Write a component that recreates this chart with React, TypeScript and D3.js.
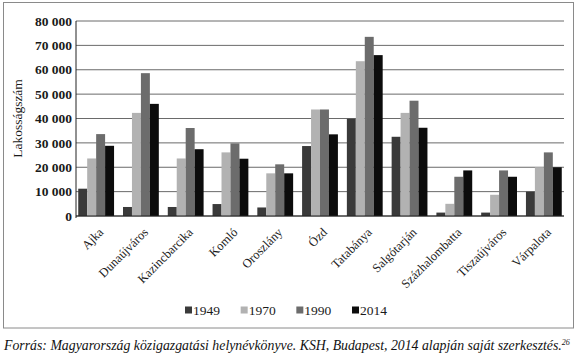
import React from 'react';
import * as d3 from 'd3';

const cities = ['Ajka', 'Dunaújváros', 'Kazincbarcika', 'Komló', 'Oroszlány', 'Ózd', 'Tatabánya', 'Salgótarján', 'Százhalombatta', 'Tiszaújváros', 'Várpalota'];
const years = ['1949', '1970', '1990', '2014'];
const pop1949 = [11200, 3700, 3700, 4900, 3500, 28700, 39900, 32500, 1400, 1400, 10000];
const pop1970 = [23600, 42300, 23600, 26100, 17500, 43700, 63500, 42300, 5000, 8700, 20000];
const pop1990 = [33600, 58600, 36100, 29800, 21200, 43700, 73500, 47300, 16100, 18700, 26100];
const pop2014 = [28800, 46000, 27400, 23500, 17500, 33500, 66000, 36200, 18700, 16100, 20000];
const yTicks = [0, 10000, 20000, 30000, 40000, 50000, 60000, 70000, 80000];
const colors = ['#3a3a3a', '#b2b2b2', '#6c6c6c', '#0c0c0c'];

const series = [pop1949, pop1970, pop1990, pop2014];

export default function App() {
    const width = 580, height = 361;
    const margin = { top: 21, right: 16, bottom: 145, left: 76 };
    const x0 = d3.scaleBand().domain(cities).range([margin.left, width - margin.right]).paddingInner(0.2).paddingOuter(0.05);
    const x1 = d3.scaleBand().domain(years).range([0, x0.bandwidth()]);
    const y = d3.scaleLinear().domain([0, 80000]).range([height - margin.bottom, margin.top]);
    const fmt = (v: number) => d3.format(',')(v).replace(/,/g, ' ');
    const serif = "'Liberation Serif', 'Times New Roman', serif";
    const legendX = d3.scalePoint().domain(years).range([185, 352]);

    return (
        <svg width={width} height={height} style={{ position: 'absolute', left: 0, top: 0, fontFamily: serif }}>
            <rect x={3.5} y={2.5} width={570} height={325.5} fill="#fff" stroke="#8a8a8a" />
            {/* gridlines */}
            {yTicks.map(t => (
                <line key={t} x1={margin.left} x2={width - margin.right} y1={y(t)} y2={y(t)} stroke="#6a6a6a" strokeWidth={1} />
            ))}
            {yTicks.map(t => (
                <text key={'l' + t} x={margin.left - 4} y={y(t)} dy="0.35em" textAnchor="end" fontSize={13.5} fontWeight="bold" fill="#1a1a1a">{fmt(t)}</text>
            ))}
            <text transform={`translate(22,${y(40000)}) rotate(-90)`} textAnchor="middle" fontSize={13.5} fill="#1a1a1a">Lakosságszám</text>
            {/* bars */}
            {cities.map((c, i) => (
                <g key={c} transform={`translate(${x0(c)},0)`}>
                    {series.map((s, j) => (
                        <rect key={j} x={x1(years[j])} y={y(s[i])} width={x1.bandwidth()} height={y(0) - y(s[i])} fill={colors[j]} />
                    ))}
                </g>
            ))}
            <line x1={margin.left} x2={width - margin.right} y1={y(0)} y2={y(0)} stroke="#222" />
            <line x1={margin.left} x2={margin.left} y1={margin.top} y2={y(0) + 2} stroke="#222" />
            {/* x labels */}
            {cities.map(c => (
                <text key={'x' + c} transform={`translate(${(x0(c) as number) + x0.bandwidth() / 2 + 8},${y(0) + 17}) rotate(-45)`} textAnchor="end" fontSize={12.5} fill="#1a1a1a">{c}</text>
            ))}
            {/* legend */}
            {years.map((yr, j) => (
                <g key={yr} transform={`translate(${legendX(yr)},310)`}>
                    <rect x={0} y={-3.5} width={7} height={7} fill={colors[j]} />
                    <text x={8} y={0} dy="0.35em" fontSize={13.5} fill="#1a1a1a">{yr}</text>
                </g>
            ))}
            <text x={4} y={350} fontSize={13.8} fontStyle="italic" fill="#111">
                Forrás: Magyarország közigazgatási helynévkönyve. KSH, Budapest, 2014 alapján saját szerkesztés.
                <tspan fontSize={8} dy={-5}>26</tspan>
            </text>
        </svg>
    );
}
